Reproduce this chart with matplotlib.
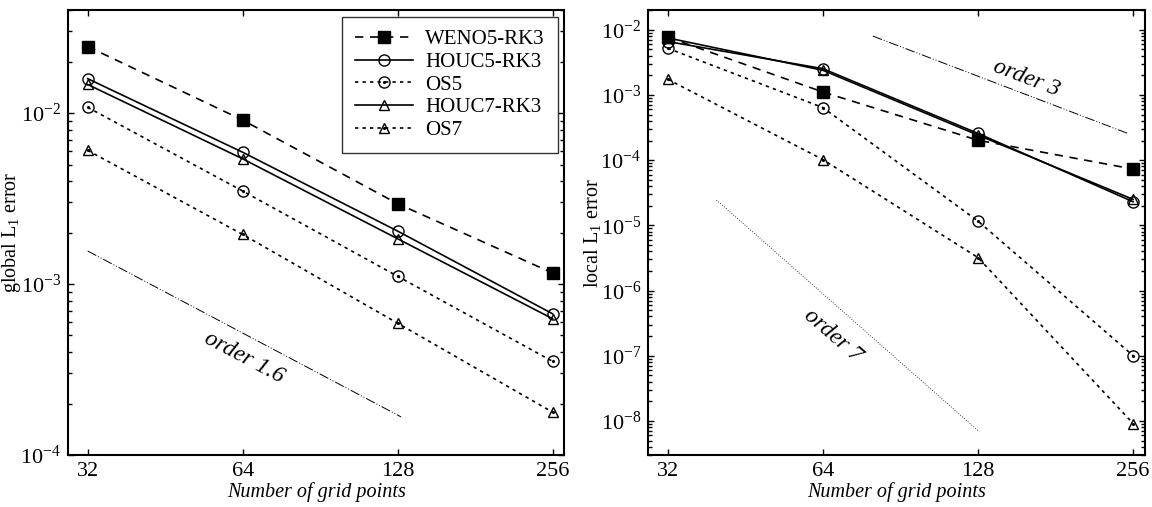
import numpy as np
import matplotlib
matplotlib.use('Agg')
import matplotlib.pyplot as plt
from matplotlib.ticker import FixedLocator, FixedFormatter, LogLocator, NullFormatter
from matplotlib.legend_handler import HandlerTuple

plt.rcParams['font.family'] = ['Liberation Serif', 'DejaVu Serif']
plt.rcParams['mathtext.fontset'] = 'custom'
plt.rcParams['mathtext.rm'] = 'Liberation Serif'
plt.rcParams['mathtext.it'] = 'Liberation Serif:italic'

# data
grid = [32, 64, 128, 256]
names = ['WENO5-RK3', 'HOUC5-RK3', 'OS5', 'HOUC7-RK3', 'OS7']

glob_weno5 = [0.0245, 0.0091, 0.00295, 0.00116]
glob_houc5 = [0.0159, 0.0059, 0.00204, 0.00067]
glob_os5 = [0.0108, 0.0035, 0.00111, 0.000353]
glob_houc7 = [0.0147, 0.0054, 0.00184, 0.000627]
glob_os7 = [0.00605, 0.00195, 0.00059, 0.000178]

loc_weno5 = [0.0077, 0.00111, 0.000202, 7.3e-5]
loc_houc5 = [0.0066, 0.00253, 0.000257, 2.3e-5]
loc_os5 = [0.0052, 0.00064, 1.16e-5, 1.0e-7]
loc_houc7 = [0.0075, 0.00239, 0.000242, 2.5e-5]
loc_os7 = [0.00174, 1.02e-4, 3.2e-6, 9.1e-9]

# reference slopes
ref16_x = [32, 130]
ref16_y = [0.00156, 0.000167]
ref3_x = [80, 250]
ref3_y = [0.008, 0.000257]
ref7_x = [39.8, 128]
ref7_y = [2.44e-5, 7.1e-9]

styles = [
    dict(ls=(0, (5, 4)), marker='s', mfc='black', ms=8, dot=False),
    dict(ls='-', marker='o', mfc='none', ms=8, dot=False),
    dict(ls=(0, (2, 2.5)), marker='o', mfc='none', ms=8, dot=True),
    dict(ls='-', marker='^', mfc='none', ms=7, dot=False),
    dict(ls=(0, (2, 2.5)), marker='^', mfc='none', ms=7, dot=True),
]

fig = plt.figure(figsize=(11.52, 5.07), dpi=100)
ax1 = fig.add_axes([0.059, 0.1026, 0.431, 0.8774])
ax2 = fig.add_axes([0.5625, 0.1026, 0.4315, 0.8774])

def setup(ax, ylim, ylabel):
    ax.set_xscale('log', base=2)
    ax.set_yscale('log')
    ax.set_xlim(29.3, 270)
    ax.set_ylim(*ylim)
    ax.xaxis.set_major_locator(FixedLocator(grid))
    ax.xaxis.set_major_formatter(FixedFormatter([str(g) for g in grid]))
    ax.xaxis.set_minor_locator(FixedLocator([]))
    ax.yaxis.set_major_locator(LogLocator(base=10, numticks=20))
    ax.yaxis.set_minor_locator(LogLocator(base=10, subs=np.arange(2, 10), numticks=20))
    ax.yaxis.set_minor_formatter(NullFormatter())
    ax.tick_params(which='both', direction='in', top=True, right=True, labelsize=16)
    ax.tick_params(which='major', length=4.5, width=1, pad=5)
    ax.tick_params(which='minor', length=3, width=1)
    for s in ax.spines.values():
        s.set_linewidth(1.5)
    ax.set_xlabel('Number of grid points', fontsize=14.5, style='italic', labelpad=1)
    ax.set_ylabel(ylabel, fontsize=14.5, labelpad=-2)

def draw(ax, series):
    handles = []
    for vals, name, st in zip(series, names, styles):
        ln, = ax.plot(grid, vals, color='black', lw=1.2, ls=st['ls'], marker=st['marker'],
                      mfc=st['mfc'], mec='black', ms=st['ms'], mew=1)
        if st['dot']:
            dt, = ax.plot(grid, vals, ls='none', marker='.', ms=2.5, color='black')
            handles.append((ln, dt))
        else:
            handles.append(ln)
    return handles

glob = [glob_weno5, glob_houc5, glob_os5, glob_houc7, glob_os7]
loc = [loc_weno5, loc_houc5, loc_os5, loc_houc7, loc_os7]

h1 = draw(ax1, glob)
draw(ax2, loc)

ax1.plot(ref16_x, ref16_y, color='black', lw=0.7, ls=(0, (10, 2, 1, 2, 1, 2)))
ax2.plot(ref3_x, ref3_y, color='black', lw=0.7, ls=(0, (10, 2, 1, 2, 1, 2)))
ax2.plot(ref7_x, ref7_y, color='black', lw=0.6, ls=(0, (1, 2)))

ax1.text(64.5, 0.00037, 'order 1.6', fontsize=17, style='italic', rotation=-28,
         ha='center', va='center')
ax2.text(159, 0.0018, 'order 3', fontsize=17, style='italic', rotation=-21,
         ha='center', va='center')
ax2.text(67, 2.0e-7, 'order 7', fontsize=17, style='italic', rotation=-41,
         ha='center', va='center')

setup(ax1, (1e-4, 4e-2), 'global L$_1$ error')
setup(ax2, (3e-9, 2e-2), 'local L$_1$ error')

leg = ax1.legend(h1, names, loc='upper right', fontsize=15, frameon=True, fancybox=False,
                 edgecolor='black', handlelength=2.8, handletextpad=0.6, borderpad=0.6,
                 labelspacing=0.15, borderaxespad=0, bbox_to_anchor=(0.986, 0.984),
                 handler_map={tuple: HandlerTuple(ndivide=1)})
leg.get_frame().set_linewidth(1.0)

fig.savefig('out.png', dpi=100)
